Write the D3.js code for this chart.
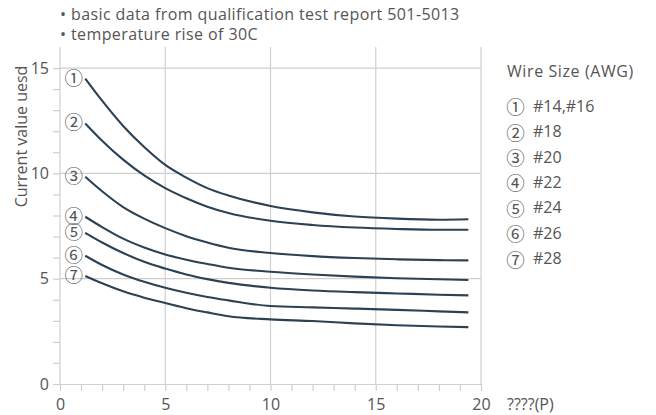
<!DOCTYPE html>
<html>
<head>
<meta charset="utf-8">
<script src="https://cdn.jsdelivr.net/npm/d3@7"></script>
<style>
  body { margin: 0; background: #fff; }
  text { font-family: "Open Sans", "Noto Sans", sans-serif; fill: #555; }
  .mark { font-family: "Noto Sans CJK JP", "Noto Sans CJK SC", sans-serif; fill: #555; }
</style>
</head>
<body>
<svg id="chart" width="656" height="415"></svg>
<script>
// Notes above the plot
const notes = ["• basic data from qualification test report 501-5013", "• temperature rise of 30C"];
const yTitle = "Current value uesd";
const xTitle = "????(P)";
const legendTitle = "Wire Size (AWG)";

// Series markers and wire sizes
const markers = ["①", "②", "③", "④", "⑤", "⑥", "⑦"];
const wireSizes = ["#14,#16", "#18", "#20", "#22", "#24", "#26", "#28"];

// Sample positions along the x axis
const xPoints = [1.2, 2, 3, 4, 5, 6, 7, 8, 10, 12, 14, 16, 18, 19.4];

// Current values for each wire size
const awg14_16 = [14.5, 13.45, 12.25, 11.25, 10.4, 9.8, 9.3, 8.95, 8.45, 8.15, 7.95, 7.85, 7.8, 7.82];
const awg18    = [12.37, 11.55, 10.65, 9.9, 9.3, 8.82, 8.42, 8.12, 7.75, 7.55, 7.43, 7.36, 7.32, 7.32];
const awg20    = [9.84, 9.15, 8.4, 7.85, 7.4, 7.02, 6.72, 6.47, 6.22, 6.07, 5.98, 5.92, 5.88, 5.87];
const awg22    = [7.94, 7.45, 6.9, 6.48, 6.15, 5.9, 5.7, 5.52, 5.33, 5.2, 5.1, 5.02, 4.97, 4.94];
const awg24    = [7.18, 6.72, 6.22, 5.8, 5.48, 5.2, 4.98, 4.8, 4.57, 4.44, 4.36, 4.3, 4.24, 4.21];
const awg26    = [6.09, 5.65, 5.2, 4.85, 4.57, 4.33, 4.13, 3.97, 3.7, 3.64, 3.58, 3.52, 3.45, 3.4];
const awg28    = [5.13, 4.78, 4.4, 4.1, 3.85, 3.6, 3.4, 3.22, 3.07, 2.99, 2.88, 2.79, 2.73, 2.7];
const seriesValues = [awg14_16, awg18, awg20, awg22, awg24, awg26, awg28];

// Axis ticks
const xMinorTicks = d3.range(0, 21, 1);
const yMinorTicks = d3.range(0, 16, 1);
const xMajorTicks = [0, 5, 10, 15, 20];
const yMajorTicks = [0, 5, 10, 15];

const svg = d3.select("#chart");
const fs = 16;
const markSize = 18.5;
const gridColor = "#cfcfcf";
const lineColor = "#2c4254";

const x = d3.scaleLinear().domain([0, 20]).range([60, 481]);
const y = d3.scaleLinear().domain([0, 16]).range([384, 47]);

// Grid
const grid = svg.append("g");
grid.selectAll("line.v").data(xMajorTicks.filter(d => d > 0)).join("line")
  .attr("x1", d => x(d)).attr("x2", d => x(d))
  .attr("y1", y(0)).attr("y2", y(16))
  .attr("stroke", gridColor).attr("stroke-width", 1.2);
grid.selectAll("line.h").data(yMajorTicks.filter(d => d > 0)).join("line")
  .attr("x1", x(0)).attr("x2", x(20))
  .attr("y1", d => y(d)).attr("y2", d => y(d))
  .attr("stroke", gridColor).attr("stroke-width", 1.2);

// Axes: a tick at every unit, labels every five
const xAxis = d3.axisBottom(x).tickValues(xMinorTicks)
  .tickFormat(d => d % 5 === 0 ? d : "").tickSize(7).tickSizeOuter(0).tickPadding(7.5);
const yAxis = d3.axisLeft(y).tickValues(yMinorTicks)
  .tickFormat(d => d % 5 === 0 ? d : "").tickSize(7).tickSizeOuter(0).tickPadding(4);

const gx = svg.append("g").attr("transform", `translate(0,${y(0)})`).call(xAxis);
const gy = svg.append("g").attr("transform", `translate(${x(0)},0)`).call(yAxis);
[gx, gy].forEach(g => {
  g.select(".domain").attr("stroke", gridColor).attr("stroke-width", 1.2);
  g.selectAll(".tick line").attr("stroke", gridColor).attr("stroke-width", 1.2);
  g.selectAll(".tick text").attr("font-size", fs).attr("font-family", null).style("fill", "#555");
});
// y axis line runs to the top of the plot
gy.select(".domain").attr("d", `M0,${y(0)}V${y(16)}`);

// Axis titles
svg.append("text").attr("x", x(20) + 26).attr("y", 410)
  .attr("font-size", fs).text(xTitle);
svg.append("text").attr("transform", "translate(26.5,136.5) rotate(-90)")
  .attr("text-anchor", "middle").attr("font-size", fs).text(yTitle);

// Notes
svg.selectAll("text.note").data(notes).join("text").attr("class", "note")
  .attr("x", 60).attr("y", (d, i) => 20 + i * 20)
  .attr("font-size", fs).attr("letter-spacing", 0.4).text(d => d);

// Curves
const line = d3.line().x((d, i) => x(xPoints[i])).y(d => y(d)).curve(d3.curveMonotoneX);
svg.append("g").selectAll("path").data(seriesValues).join("path")
  .attr("d", line).attr("fill", "none")
  .attr("stroke", lineColor).attr("stroke-width", 2.1);

// Curve markers beside each curve's first point
svg.append("g").selectAll("text").data(seriesValues).join("text").attr("class", "mark")
  .attr("x", d => x(xPoints[0]) - 11.5).attr("y", d => y(d[0]) - 2)
  .attr("text-anchor", "middle").attr("dominant-baseline", "central")
  .attr("font-size", markSize).text((d, i) => markers[i]);

// Legend
const lg = svg.append("g").attr("transform", "translate(507,0)");
lg.append("text").attr("x", 0).attr("y", 76.5).attr("font-size", fs)
  .attr("letter-spacing", 0.6).text(legendTitle);
const items = lg.selectAll("g").data(wireSizes).join("g")
  .attr("transform", (d, i) => `translate(0,${111.7 + i * 25.4})`);
items.append("text").attr("class", "mark").attr("x", 8.5).attr("y", -5.5)
  .attr("text-anchor", "middle").attr("dominant-baseline", "central")
  .attr("font-size", markSize).text((d, i) => markers[i]);
items.append("text").attr("x", 26).attr("y", 0)
  .attr("font-size", fs).text(d => d);
</script>
</body>
</html>
